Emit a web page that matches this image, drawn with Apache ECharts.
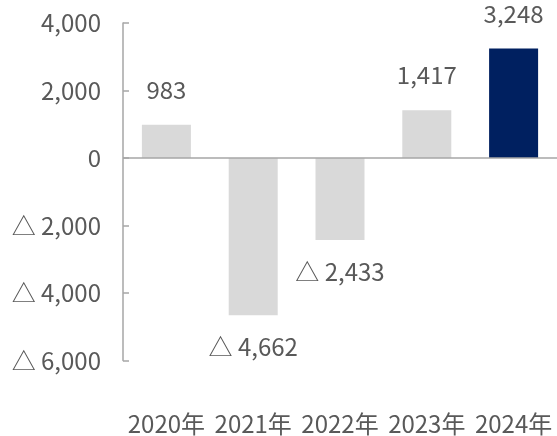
<!DOCTYPE html>
<html><head><meta charset="utf-8">
<script src="https://cdn.jsdelivr.net/npm/echarts@6/dist/echarts.min.js"></script>
<style>html,body{margin:0;padding:0;background:#fff}#c{width:557px;height:436px}</style>
</head><body><div id="c"></div>
<script>
const categories = ['2020年','2021年','2022年','2023年','2024年'];
const values = [983, -4662, -2433, 1417, 3248];
const barColors = ['#d9d9d9','#d9d9d9','#d9d9d9','#d9d9d9','#002060'];
const yTicks = [-6000, -4000, -2000, 0, 2000, 4000];

function fmt(v){
  const s = Math.abs(v).toLocaleString('en-US');
  return v < 0 ? '△ ' + s : s;
}
const FONT = '"Noto Sans CJK JP", "Noto Sans", sans-serif';
const chart = echarts.init(document.getElementById('c'));
chart.setOption({
  animation:false,
  grid:{left:123,right:0,top:23,bottom:75.5,containLabel:false},
  xAxis:{type:'category',data:categories,
    axisLine:{show:false,onZero:false},axisTick:{show:false},
    axisLabel:{color:'#595959',fontSize:24,fontFamily:FONT,margin:51,interval:0}},
  yAxis:{type:'value',min:yTicks[0],max:yTicks[yTicks.length-1],interval:2000,
    axisLine:{show:true,lineStyle:{color:'#a6a6a6',width:1.5}},
    axisTick:{show:true,inside:true,length:6,lineStyle:{color:'#a6a6a6',width:1.5}},
    splitLine:{show:false},
    axisLabel:{color:'#595959',fontSize:24,fontFamily:FONT,margin:22,formatter:fmt}},
  series:[{type:'bar',barWidth:49,
    data:values.map((v,i)=>({value:v,itemStyle:{color:barColors[i]},
      label:{position:v<0?'bottom':'top',distance:v<0?20:23}})),
    label:{show:true,color:'#595959',fontSize:24,fontFamily:FONT,
      formatter:p=>fmt(p.value)},
    markLine:{silent:true,symbol:'none',label:{show:false},
      lineStyle:{color:'#a6a6a6',width:1.5,type:'solid'},data:[{yAxis:0}]}
  }]
});
</script></body></html>
